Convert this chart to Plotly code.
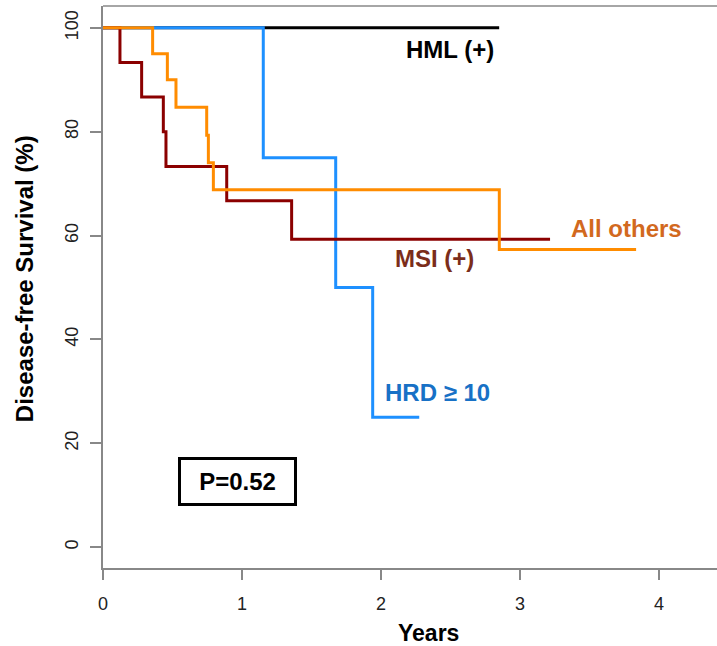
import plotly.graph_objects as go

# ---- data ----
hml_t = [0, 2.85]
hml_s = [100, 100]

hrd_t = [0, 1.153, 1.674, 1.94, 2.275]
hrd_s = [100, 75, 50, 25, 25]

msi_t = [0, 0.122, 0.278, 0.434, 0.453, 0.89, 1.357, 3.216]
msi_s = [100, 93.3, 86.7, 80.0, 73.3, 66.7, 59.3, 59.3]

oth_t = [0, 0.357, 0.463, 0.525, 0.746, 0.758, 0.794, 2.851, 3.835]
oth_s = [100, 95.0, 90.0, 84.7, 79.3, 74.0, 68.8, 57.3, 57.3]

x_ticks = [0, 1, 2, 3, 4]
y_ticks = [0, 20, 40, 60, 80, 100]

FONT = "Liberation Sans"
AXIS_GREY = "#888888"

fig = go.Figure()
series = [
    ("HML (+)", hml_t, hml_s, "#000000"),
    ("HRD ≥ 10", hrd_t, hrd_s, "#1E90FF"),
    ("MSI (+)", msi_t, msi_s, "#8B0000"),
    ("All others", oth_t, oth_s, "#FF8C00"),
]
for name, t, s, c in series:
    fig.add_trace(go.Scatter(x=t, y=s, mode="lines", name=name,
                             line=dict(color=c, width=3, shape="hv"),
                             showlegend=False, hoverinfo="skip"))

# curve labels
labels = [
    ("HML (+)", 2.496, 95.8, "#000000"),
    ("All others", 3.763, 61.3, "#D2691E"),
    ("MSI (+)", 2.388, 55.6, "#7B2D1A"),
    ("HRD ≥ 10", 2.406, 29.8, "#1871C6"),
]
for txt, x, y, c in labels:
    fig.add_annotation(x=x, y=y, text="<b>%s</b>" % txt, showarrow=False,
                       font=dict(family=FONT, size=24, color=c),
                       xanchor="center", yanchor="middle")

# P-value box
fig.add_annotation(x=0.97, y=12.7, text="<b>P=0.52</b>", showarrow=False,
                   font=dict(family=FONT, size=24, color="#000000"),
                   xanchor="center", yanchor="middle",
                   bordercolor="#000000", borderwidth=3, borderpad=4,
                   width=105, height=35, bgcolor="white")

# axis titles
fig.add_annotation(xref="x", yref="paper", x=2.338, y=0, yshift=-65,
                   text="<b>Years</b>", showarrow=False,
                   font=dict(family=FONT, size=23, color="#000000"),
                   xanchor="center", yanchor="middle")
fig.add_annotation(xref="paper", yref="paper", x=0, y=0.514, xshift=-79,
                   text="<b>Disease-free Survival (%)</b>", showarrow=False,
                   textangle=-90,
                   font=dict(family=FONT, size=24, color="#000000"),
                   xanchor="center", yanchor="middle")

# top border of the plot box
fig.add_shape(type="line", xref="paper", yref="paper", x0=0, x1=1, y0=1, y1=1,
              line=dict(color=AXIS_GREY, width=1.5))

fig.update_xaxes(range=[0, 4.417], tickvals=x_ticks, ticktext=[str(v) for v in x_ticks],
                 showgrid=False, zeroline=False, showline=True, linecolor=AXIS_GREY,
                 linewidth=1.5, ticks="outside", ticklen=10, tickcolor=AXIS_GREY,
                 tickwidth=1.5, ticklabelstandoff=9, automargin=False,
                 tickfont=dict(family=FONT, size=18, color="#222222"))
fig.update_yaxes(range=[-4.0, 104.2], tickvals=y_ticks, ticktext=[str(v) for v in y_ticks],
                 showgrid=False, zeroline=False, showline=True, linecolor=AXIS_GREY,
                 linewidth=1.5, ticks="outside", ticklen=11, tickcolor=AXIS_GREY,
                 tickwidth=1.5, tickangle=-90, ticklabelstandoff=5, automargin=False,
                 tickfont=dict(family=FONT, size=18, color="#222222"))

fig.update_layout(width=717, height=646,
                  margin=dict(l=103, r=0, t=6, b=78, autoexpand=False),
                  plot_bgcolor="white", paper_bgcolor="white",
                  font=dict(family=FONT))

fig.write_html("out.html", config={"displayModeBar": False},
               post_script="document.body.style.margin='0';document.body.style.overflow='hidden';")
